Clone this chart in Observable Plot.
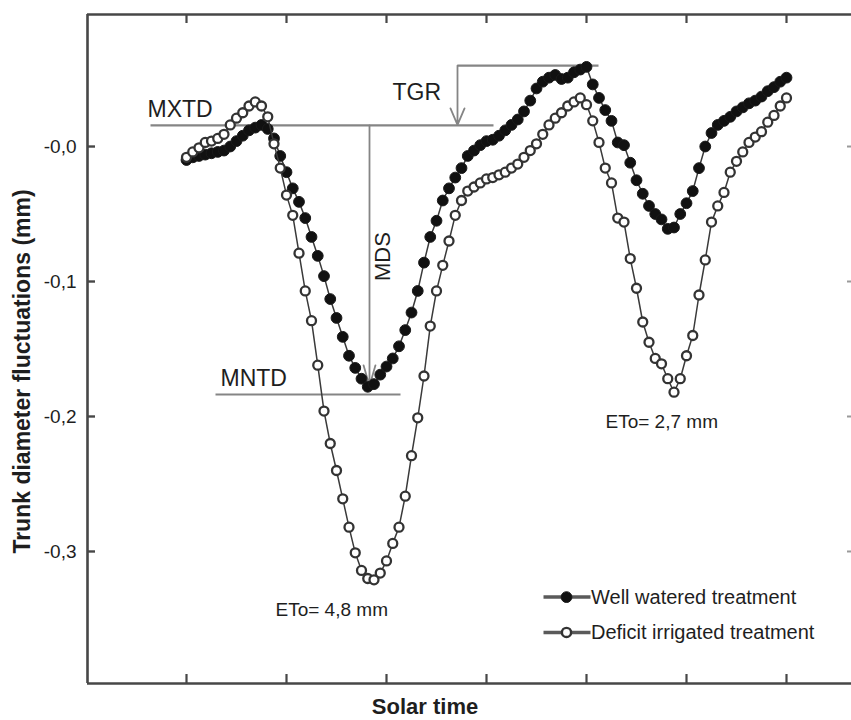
<!DOCTYPE html>
<html><head><meta charset="utf-8">
<script src="https://cdn.jsdelivr.net/npm/d3@7"></script>
<script src="https://cdn.jsdelivr.net/npm/@observablehq/plot@0.6"></script>
<style>
html,body{margin:0;padding:0;background:#fff;overflow:hidden;}
#chart svg{display:block;}
</style></head><body><div id="chart"></div>
<script>
// Solar time (h), 30-min readings over two days
const solarTime = [0,0.5,1,1.5,2,2.5,3,3.5,4,4.5,5,5.5,6,6.5,7,7.5,8,8.5,9,9.5,10,10.5,11,11.5,12,12.5,13,13.5,14,14.5,15,15.5,16,16.5,17,17.5,18,18.5,19,19.5,20,20.5,21,21.5,22,22.5,23,23.5,24,24.5,25,25.5,26,26.5,27,27.5,28,28.5,29,29.5,30,30.5,31,31.5,32,32.5,33,33.5,34,34.5,35,35.5,36,36.5,37,37.5,38,38.5,39,39.5,40,40.5,41,41.5,42,42.5,43,43.5,44,44.5,45,45.5,46,46.5,47,47.5,48];

// Trunk diameter fluctuations (mm)
const wellWatered = [
-0.010,-0.008,-0.007,-0.006,-0.005,-0.004,-0.003,0.000,0.004,0.008,
0.012,0.014,0.016,0.013,0.006,-0.007,-0.019,-0.031,-0.041,-0.053,
-0.067,-0.081,-0.096,-0.113,-0.127,-0.141,-0.155,-0.164,-0.172,-0.178,
-0.176,-0.169,-0.163,-0.157,-0.148,-0.136,-0.123,-0.107,-0.086,-0.067,
-0.055,-0.040,-0.031,-0.023,-0.016,-0.007,-0.003,0.001,0.004,0.005,
0.008,0.012,0.016,0.020,0.026,0.034,0.043,0.048,0.051,0.053,
0.050,0.051,0.055,0.057,0.059,0.046,0.036,0.027,0.019,0.003,
0.001,-0.012,-0.025,-0.035,-0.044,-0.050,-0.054,-0.061,-0.060,-0.050,
-0.042,-0.033,-0.016,0.000,0.010,0.016,0.019,0.022,0.026,0.029,
0.032,0.034,0.037,0.041,0.044,0.048,0.051];

const deficitIrrigated = [
-0.008,-0.004,-0.001,0.003,0.004,0.006,0.009,0.016,0.021,0.025,
0.030,0.033,0.030,0.022,0.002,-0.016,-0.036,-0.051,-0.079,-0.107,
-0.129,-0.162,-0.196,-0.220,-0.240,-0.261,-0.282,-0.301,-0.314,-0.320,
-0.321,-0.316,-0.307,-0.294,-0.282,-0.259,-0.229,-0.201,-0.170,-0.133,
-0.107,-0.088,-0.070,-0.051,-0.040,-0.033,-0.030,-0.027,-0.024,-0.023,
-0.021,-0.019,-0.016,-0.013,-0.008,-0.003,0.002,0.009,0.016,0.021,
0.025,0.030,0.033,0.036,0.031,0.019,0.003,-0.016,-0.027,-0.053,
-0.056,-0.083,-0.105,-0.130,-0.145,-0.157,-0.161,-0.172,-0.182,-0.172,
-0.155,-0.140,-0.110,-0.084,-0.056,-0.044,-0.034,-0.019,-0.011,-0.004,
0.003,0.007,0.011,0.018,0.023,0.030,0.036];

const seriesNames = ["Well watered treatment", "Deficit irrigated treatment"];

// Axes
const xDomain = [-7.92, 53.28];
const yDomain = [-0.3978, 0.0978];
const xTicks = [0, 8, 16, 24, 32, 40, 48];
const yTicks = [0, -0.1, -0.2, -0.3];
const yTickLabels = ["-0,0", "-0,1", "-0,2", "-0,3"];
const yTitle = "Trunk diameter fluctuations (mm)";
const xTitle = "Solar time";

// Annotations (data units)
const annLabels = ["MXTD", "TGR", "MNTD"];
const annX = [-3.12, 16.48, 2.72];
const annY = [0.0270, 0.0396, -0.1723];
const mdsLabel = "MDS", mdsX = 15.68, mdsY = -0.0815;
const etoLabels = ["ETo= 4,8 mm", "ETo= 2,7 mm"];
const etoX = [7.12, 33.52];
const etoY = [-0.343, -0.2037];
// horizontal reference lines: [x1, x2, y]
const refLines = [[-2.88, 24.56, 0.0156], [21.68, 32.96, 0.060], [2.32, 17.12, -0.1837]];
// arrows: [x, yFrom, yTo]
const mdsArrow = [[14.64, 0.0156, -0.1775]];
const tgrArrow = [[21.68, 0.060, 0.0160]];
// legend
const legendY = [-0.3338, -0.3600];
const legendLineX = [28.56, 32.32];
const legendDotX = 30.4;
const legendTextX = 32.36;

const ww = solarTime.map((t, i) => ({t, v: wellWatered[i]}));
const di = solarTime.map((t, i) => ({t, v: deficitIrrigated[i]}));

const axisColor = "#474747";
const annColor = "#858585";
const frameW = 852 - 87, frameH = 683 - 14;

const chart = Plot.plot({
  width: 851,
  height: 720,
  marginLeft: 87,
  marginRight: -1,
  marginTop: 14,
  marginBottom: 37,
  style: {fontFamily: "'Liberation Sans', Arial, Helvetica, sans-serif", background: "#fff", color: "#1e1e1e"},
  x: {domain: xDomain, axis: null},
  y: {domain: yDomain, axis: null},
  marks: [
    // annotation lines
    Plot.link(refLines, {x1: d => d[0], x2: d => d[1], y1: d => d[2], y2: d => d[2], stroke: annColor, strokeWidth: 2.2}),
    Plot.arrow(mdsArrow, {x1: d => d[0], x2: d => d[0], y1: d => d[1], y2: d => d[2], headLength: 18, headAngle: 32, stroke: annColor, strokeWidth: 1.8}),
    Plot.arrow(tgrArrow, {x1: d => d[0], x2: d => d[0], y1: d => d[1], y2: d => d[2], headLength: 15, headAngle: 46, stroke: annColor, strokeWidth: 1.8}),
    // series
    Plot.line(ww, {x: "t", y: "v", stroke: "#3a3a3a", strokeWidth: 1.5}),
    Plot.dot(ww, {x: "t", y: "v", r: 5.4, fill: "#111", stroke: "#1a1a1a", strokeWidth: 1}),
    Plot.line(di, {x: "t", y: "v", stroke: "#3a3a3a", strokeWidth: 1.5}),
    Plot.dot(di, {x: "t", y: "v", r: 4.5, fill: "#fff", stroke: "#333", strokeWidth: 2.3}),
    // frame (left, top, bottom)
    Plot.ruleX([xDomain[0]], {stroke: axisColor, strokeWidth: 2.6}),
    Plot.ruleY([yDomain[0], yDomain[1]], {stroke: axisColor, strokeWidth: 2.6}),
    // inward ticks
    Plot.ruleY(yTicks, {insetRight: frameW - 8, stroke: axisColor, strokeWidth: 2.4}),
    Plot.ruleY(yTicks, {insetLeft: frameW - 5, stroke: "#9a9a9a", strokeWidth: 2}),
    Plot.ruleX(xTicks, {insetBottom: frameH - 9, stroke: axisColor, strokeWidth: 2.2}),
    Plot.ruleX(xTicks, {insetTop: frameH - 9, stroke: axisColor, strokeWidth: 2.2}),
    // y tick labels
    Plot.axisY(yTicks, {tickSize: 0, tickPadding: 11, tickFormat: d => yTickLabels[yTicks.indexOf(d)], fontSize: 19, label: null}),
    // axis titles
    Plot.text([yTitle], {frameAnchor: "left", textAnchor: "middle", lineAnchor: "middle", rotate: -90, dx: -65, dy: 22.5, fontWeight: "bold", fontSize: 23}),
    Plot.text([xTitle], {frameAnchor: "bottom", textAnchor: "middle", lineAnchor: "middle", dx: -45, dy: 23, fontWeight: "bold", fontSize: 22}),
    // annotation labels
    Plot.text(annLabels, {x: (d, i) => annX[i], y: (d, i) => annY[i], text: d => d, textAnchor: "start", fontSize: 23}),
    Plot.text([mdsLabel], {x: mdsX, y: mdsY, rotate: -90, fontSize: 22}),
    Plot.text(etoLabels, {x: (d, i) => etoX[i], y: (d, i) => etoY[i], text: d => d, textAnchor: "start", fontSize: 19}),
    // legend
    Plot.link(seriesNames, {x1: legendLineX[0], x2: legendLineX[1], y1: (d, i) => legendY[i], y2: (d, i) => legendY[i], stroke: "#5a5a5a", strokeWidth: 3.5}),
    Plot.dot([seriesNames[0]], {x: legendDotX, y: legendY[0], r: 5.4, fill: "#111", stroke: "#1a1a1a", strokeWidth: 1}),
    Plot.dot([seriesNames[1]], {x: legendDotX, y: legendY[1], r: 4.6, fill: "#fff", stroke: "#333", strokeWidth: 2.4}),
    Plot.text(seriesNames, {x: legendTextX, y: (d, i) => legendY[i], text: d => d, textAnchor: "start", fontSize: 20, letterSpacing: -0.3})
  ]
});
document.getElementById("chart").append(chart);
</script>
</body></html>
